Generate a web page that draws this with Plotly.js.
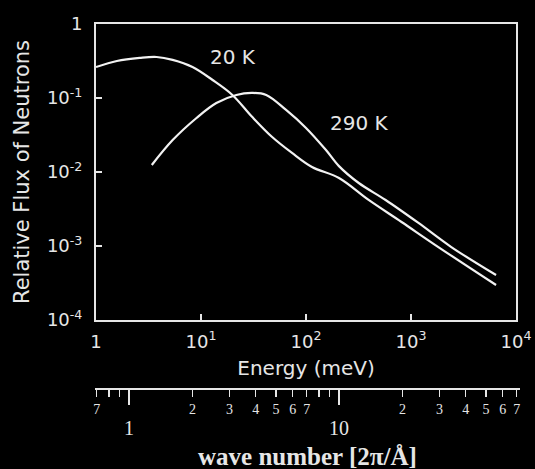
<!DOCTYPE html>
<html>
<head>
<meta charset="utf-8">
<script src="https://cdn.plot.ly/plotly-3.0.1.min.js"></script>
<style>
  html, body { margin: 0; padding: 0; background: #000; }
  #chart { width: 535px; height: 469px; }
</style>
</head>
<body>
<div id="chart"></div>
<script>
// ---- data (energy in meV, relative flux) ----
const energy20K = [1, 1.58, 2.61, 3.78, 5.37, 8.3, 12.9, 19.9, 30.8, 47.6, 73.6, 114, 206, 395, 813, 1706, 6457];
const flux20K   = [0.262, 0.316, 0.348, 0.358, 0.327, 0.262, 0.175, 0.110, 0.0553, 0.0297, 0.0181, 0.0117, 0.0083, 0.00419, 0.00211, 0.00103, 0.000297];

const energy290K = [3.4, 5.37, 9.06, 14.0, 21.7, 30.8, 41.8, 64.6, 100, 155, 206, 318, 573, 1178, 2421, 6457];
const flux290K   = [0.01245, 0.027, 0.0537, 0.0855, 0.110, 0.117, 0.110, 0.0689, 0.0394, 0.0198, 0.0120, 0.0071, 0.00419, 0.00205, 0.000968, 0.000405];

const energyTickVals = [1, 10, 100, 1000, 10000];
const energyTickText = ['1', '10<sup>1</sup>', '10<sup>2</sup>', '10<sup>3</sup>', '10<sup>4</sup>'];
const fluxTickVals = [1e-4, 1e-3, 1e-2, 1e-1, 1];
const fluxTickText = ['10<sup>-4</sup>', '10<sup>-3</sup>', '10<sup>-2</sup>', '10<sup>-1</sup>', '1'];

const waveTickVals = [0.7, 0.8, 0.9, 2, 3, 4, 5, 6, 7, 8, 9, 20, 30, 40, 50, 60, 70];
const waveTickText = ['7', '', '', '2', '3', '4', '5', '6', '7', '', '', '2', '3', '4', '5', '6', '7'];
const waveMajorVals = [1, 10];
const waveMajorText = ['1', '10'];

const E_PER_K2 = 2.072; // meV per (wave number)^2

// ---- layout geometry ----
const fg = '#e6e6e6';
const energyDomain = [2 / 426, 422 / 426];
const waveDomain = [1 / 426, 1.0];
const eRange = [0, 4];
function logEAt(d) {
  return eRange[0] + (d - energyDomain[0]) / (energyDomain[1] - energyDomain[0]) * (eRange[1] - eRange[0]);
}
const waveRange = waveDomain.map(d => (logEAt(d) - Math.log10(E_PER_K2)) / 2);

const traces = [
  { x: [], y: [], type: 'scatter', mode: 'lines', xaxis: 'x2', yaxis: 'y', showlegend: false, hoverinfo: 'skip' },
  { x: energy20K, y: flux20K, type: 'scatter', mode: 'lines', name: '20 K',
    line: { color: '#f2f2f2', width: 2.2, shape: 'spline', smoothing: 1 }, hoverinfo: 'skip' },
  { x: energy290K, y: flux290K, type: 'scatter', mode: 'lines', name: '290 K',
    line: { color: '#f2f2f2', width: 2.2, shape: 'spline', smoothing: 1 }, hoverinfo: 'skip' }
];

const layout = {
  width: 535, height: 469,
  paper_bgcolor: '#000', plot_bgcolor: 'rgba(0,0,0,0)',
  margin: { l: 94, r: 15, t: 24, b: 80 },
  showlegend: false,
  font: { family: 'DejaVu Sans', color: fg },
  xaxis: {
    type: 'log', range: eRange, domain: energyDomain,
    showgrid: false, zeroline: false,
    showline: true, mirror: true, linecolor: fg, linewidth: 2,
    ticks: 'inside', ticklen: 6, tickwidth: 1.5, tickcolor: fg,
    tickmode: 'array', tickvals: energyTickVals, ticktext: energyTickText,
    tickfont: { family: 'DejaVu Sans', size: 18, color: fg },
    ticklabelstandoff: 4,
    title: { text: 'Energy (meV)', font: { family: 'DejaVu Sans', size: 20, color: fg }, standoff: 10 }
  },
  yaxis: {
    type: 'log', range: [-4, 0], domain: [69 / 365, 1],
    showgrid: false, zeroline: false,
    showline: true, mirror: true, linecolor: fg, linewidth: 2,
    ticks: 'inside', ticklen: 6, tickwidth: 1.5, tickcolor: fg,
    tickmode: 'array', tickvals: fluxTickVals, ticktext: fluxTickText,
    tickfont: { family: 'DejaVu Sans', size: 18, color: fg },
    ticklabelstandoff: 8,
    title: { text: 'Relative Flux of Neutrons', font: { family: 'DejaVu Sans', size: 21, color: fg }, standoff: 12 }
  },
  xaxis2: {
    type: 'log', range: waveRange, domain: waveDomain,
    anchor: 'free', position: 0,
    showgrid: false, zeroline: false,
    showline: true, linecolor: fg, linewidth: 2,
    ticks: 'outside', ticklen: 7, tickwidth: 1.5, tickcolor: fg,
    tickmode: 'array', tickvals: waveTickVals, ticktext: waveTickText,
    tickfont: { family: 'Liberation Serif', size: 14, color: fg },
    minor: { tickmode: 'array', tickvals: waveMajorVals, ticks: 'outside', ticklen: 15, tickwidth: 1.5, tickcolor: fg, showgrid: false }
  },
  annotations: [
    { text: '20 K', x: 1.308, y: -0.446, xref: 'x', yref: 'y', showarrow: false,
      font: { family: 'DejaVu Sans', size: 20, color: fg } },
    { text: '290 K', x: 2.512, y: -1.338, xref: 'x', yref: 'y', showarrow: false,
      font: { family: 'DejaVu Sans', size: 20, color: fg } },
    { text: waveMajorText[0], x: Math.log10(waveMajorVals[0]), y: -39 / 365, xref: 'x2', yref: 'paper',
      yanchor: 'middle', showarrow: false, font: { family: 'Liberation Serif', size: 20, color: fg } },
    { text: waveMajorText[1], x: Math.log10(waveMajorVals[1]), y: -39 / 365, xref: 'x2', yref: 'paper',
      yanchor: 'middle', showarrow: false, font: { family: 'Liberation Serif', size: 20, color: fg } },
    { text: '<b>wave number [2π/Å]</b>', x: 0.5, y: -67 / 365, xref: 'paper', yref: 'paper',
      yanchor: 'middle', showarrow: false, font: { family: 'Liberation Serif', size: 25, color: fg } }
  ]
};

Plotly.newPlot('chart', traces, layout, { staticPlot: true, displayModeBar: false });
</script>
</body>
</html>
